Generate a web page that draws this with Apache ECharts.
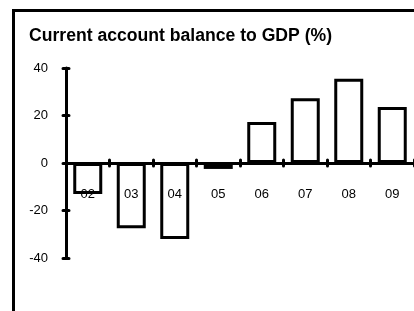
<!DOCTYPE html>
<html>
<head>
<meta charset="utf-8">
<script src="https://cdn.jsdelivr.net/npm/echarts@6/dist/echarts.min.js"></script>
<style>
  html, body { margin: 0; padding: 0; background: #fff; }
  #chart { width: 414px; height: 311px; }
</style>
</head>
<body>
<div id="chart"></div>
<script>
const years = ['02', '03', '04', '05', '06', '07', '08', '09']
const balance = [-13, -27.5, -32, -2.5, 17.3, 27.3, 35.5, 23.6]
const yTicks = { min: -40, max: 40, step: 20 }

const chart = echarts.init(document.getElementById('chart'))

const tickStyle = { color: '#000', width: 3, cap: 'round' }

chart.setOption({
  animation: false,
  textStyle: { fontFamily: 'Liberation Sans, Arial, sans-serif' },
  graphic: [
    {
      type: 'rect',
      shape: { x: 13.5, y: 10.5, width: 520, height: 420 },
      style: { fill: null, stroke: '#000', lineWidth: 3 },
      z: 0
    },
    {
      type: 'text',
      left: 29,
      top: 27,
      style: {
        text: 'Current account balance to GDP (%)',
        font: 'bold 17.6px "Liberation Sans", Arial, sans-serif',
        fill: '#000'
      }
    }
  ],
  grid: { left: 66, top: 68, width: 352, height: 190, containLabel: false },
  xAxis: [
    {
      type: 'category',
      data: years,
      axisLine: { onZero: true, lineStyle: { color: '#000', width: 3 } },
      axisTick: { show: true, length: 3, inside: false, lineStyle: tickStyle },
      axisLabel: { show: false },
      splitLine: { show: false }
    },
    {
      type: 'category',
      data: years,
      position: 'bottom',
      axisLine: { onZero: true, onZeroAxisIndex: 1, show: false },
      axisTick: { show: true, length: 3, inside: true, lineStyle: tickStyle },
      axisLabel: { show: false },
      splitLine: { show: false }
    },
    {
      // label-only axis sitting on the zero line
      type: 'category',
      data: years,
      position: 'bottom',
      offset: -95,
      axisLine: { show: false, onZero: false },
      axisTick: { show: false },
      axisLabel: { margin: 25, color: '#000', fontSize: 13 },
      splitLine: { show: false }
    }
  ],
  yAxis: [
    {
      type: 'value',
      min: yTicks.min,
      max: yTicks.max,
      interval: yTicks.step,
      axisLine: { show: true, lineStyle: { color: '#000', width: 3 } },
      axisTick: { show: true, length: 3, lineStyle: tickStyle },
      axisLabel: { margin: 18, color: '#000', fontSize: 13 },
      splitLine: { show: false }
    },
    {
      type: 'value',
      position: 'left',
      min: yTicks.min,
      max: yTicks.max,
      interval: yTicks.step,
      axisLine: { show: false },
      axisTick: { show: true, inside: true, length: 3, lineStyle: tickStyle },
      axisLabel: { show: false },
      splitLine: { show: false }
    }
  ],
  series: [
    {
      type: 'bar',
      data: balance,
      barWidth: 29,
      itemStyle: { color: 'rgba(0,0,0,0)', borderColor: '#000', borderWidth: 3 }
    }
  ]
})
</script>
</body>
</html>
